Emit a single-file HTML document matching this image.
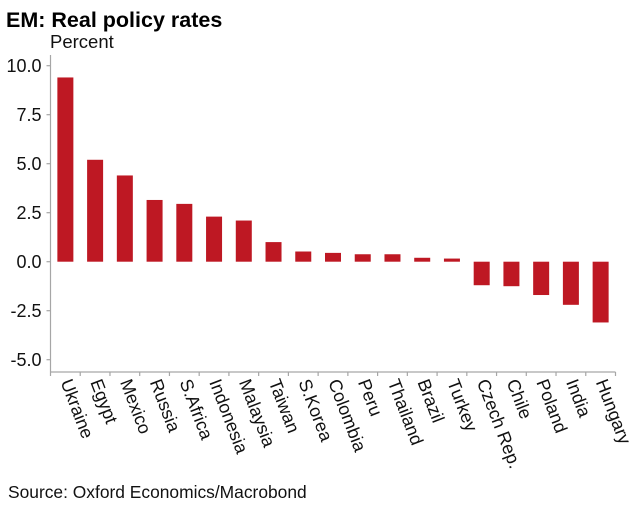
<!DOCTYPE html>
<html>
<head>
<meta charset="utf-8">
<style>
html,body{margin:0;padding:0;background:#fff;}
svg{display:block;font-family:"Liberation Sans",Arial,sans-serif;}
</style>
</head>
<body>
<svg id="chart" width="638" height="510" viewBox="0 0 638 510" xmlns="http://www.w3.org/2000/svg">
<rect x="0" y="0" width="638" height="510" fill="#ffffff"/>
<text x="6" y="27" font-size="21.5" font-weight="bold" fill="#000">EM: Real policy rates</text>
<text x="50" y="48" font-size="18.5" fill="#111">Percent</text>
<text x="8" y="498" font-size="17.4" fill="#111">Source: Oxford Economics/Macrobond</text>
<g id="plot"></g>
</svg>
<script>
var categories = ["Ukraine","Egypt","Mexico","Russia","S.Africa","Indonesia","Malaysia","Taiwan","S.Korea","Colombia","Peru","Thailand","Brazil","Turkey","Czech Rep.","Chile","Poland","India","Hungary"];
var seriesValues = [9.4,5.2,4.4,3.15,2.95,2.3,2.1,1.0,0.52,0.45,0.38,0.38,0.2,0.16,-1.2,-1.25,-1.7,-2.2,-3.1];
var tickValues = [10,7.5,5,2.5,0,-2.5,-5];
var tickLabels = ["10.0","7.5","5.0","2.5","0.0","-2.5","-5.0"];

var NS = "http://www.w3.org/2000/svg";
var plot = document.getElementById("plot");
var xLeft = 50.5, xRight = 615.5, yTop = 55, yBottom = 372;
var y10 = 65.7, pxPerUnit = 19.6;
function yScale(v){ return y10 + (10 - v) * pxPerUnit; }
function step(){ return (xRight - xLeft) / categories.length; }
function xScale(i){ return xLeft + step() * (i + 0.5); }
function make(tag, attrs){
  var el = document.createElementNS(NS, tag);
  for (var k in attrs) el.setAttribute(k, attrs[k]);
  plot.appendChild(el);
  return el;
}
var barWidth = 16;
seriesValues.forEach(function(v, i){
  var y0 = yScale(0), yv = yScale(v);
  var bar = make("rect", {x: xScale(i) - barWidth / 2, y: Math.min(y0, yv), width: barWidth, height: Math.abs(y0 - yv), fill: "#be1823"});
  
  
});
var yAxis = make("line", {x1: xLeft, x2: xLeft, y1: yTop, y2: yBottom, stroke: "#a6a6a6", "stroke-width": 1.2});


var xAxis = make("line", {x1: xLeft, x2: xRight, y1: yBottom, y2: yBottom, stroke: "#a6a6a6", "stroke-width": 1.2});


tickValues.forEach(function(v, i){
  var y = yScale(v);
  var tick = make("line", {x1: xLeft - 4, x2: xLeft, y1: y, y2: y, stroke: "#a6a6a6", "stroke-width": 1.2});
  
  
  var label = make("text", {x: 41.5, y: y + 6.5, "text-anchor": "end", "font-size": 18, fill: "#111"});
  label.textContent = tickLabels[i];
  
  
});
for (var t = 0; t <= categories.length; t++) {
  var tx = xLeft + step() * t;
  var xt = make("line", {x1: tx, x2: tx, y1: yBottom, y2: yBottom + 4, stroke: "#a6a6a6", "stroke-width": 1.2});
  
  
}
categories.forEach(function(c, i){
  var lx = xScale(i) - 5, ly = 382;
  var label = make("text", {x: lx, y: ly, "font-size": 18, fill: "#111", transform: "rotate(69 " + lx + " " + ly + ")"});
  label.textContent = c;
  
  
});
</script>
</body>
</html>
